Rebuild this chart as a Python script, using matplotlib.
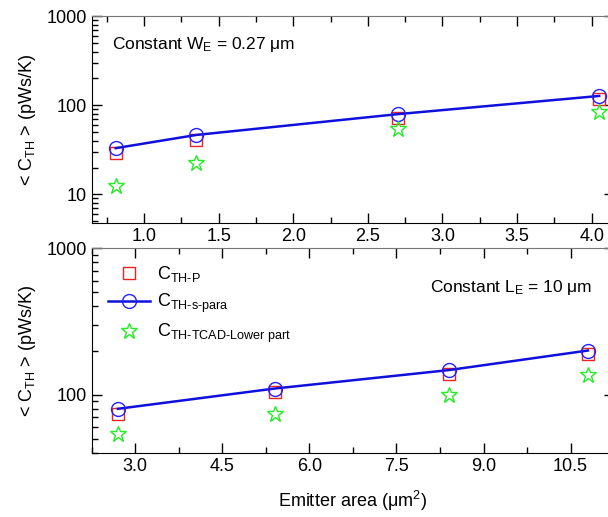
import matplotlib
matplotlib.use("Agg")
import matplotlib.pyplot as plt
from matplotlib.ticker import LogLocator, MultipleLocator, NullFormatter

plt.rcParams['font.family'] = ['Liberation Sans', 'DejaVu Sans']
plt.rcParams['mathtext.fontset'] = 'custom'
plt.rcParams['mathtext.rm'] = 'Liberation Sans'
plt.rcParams['mathtext.it'] = 'Liberation Sans:italic'
plt.rcParams['mathtext.default'] = 'regular'

# constant W_E = 0.27 um, varying length
area_w = [0.81, 1.35, 2.7, 4.05]
cth_p_w = [29, 40.8, 72.4, 118.6]
cth_spara_w = [33, 46.4, 79.4, 127]
cth_tcad_w = [12.4, 22.5, 53.7, 83]

# constant L_E = 10 um, varying width
area_l = [2.7, 5.4, 8.4, 10.8]
cth_p_l = [74, 104, 138, 188]
cth_spara_l = [80, 110, 147, 200]
cth_tcad_l = [53.5, 73.6, 100, 136]

lbl_p = r'C$_{\text{TH-P}}$'
lbl_s = r'C$_{\text{TH-s-para}}$'
lbl_t = r'C$_{\text{TH-TCAD-Lower part}}$'
ylab = r'< C$_{TH}$ > (pWs/K)'

fig = plt.figure(figsize=(6.08, 5.17), dpi=100)
ax1 = fig.add_axes([0.151, 0.569, 0.859, 0.400])
ax2 = fig.add_axes([0.151, 0.124, 0.859, 0.396])


def draw(ax, x, p, s, t):
    ax.plot(x, p, ls='none', marker='s', ms=8, mfc='none', mec='#ee2222', mew=1.0, label=lbl_p)
    ax.plot(x, s, color='#1010dd', lw=1.8, marker='o', ms=10, mfc='none', mec='#2222ff', mew=1.0, label=lbl_s)
    ax.plot(x, t, ls='none', marker='*', ms=12, mfc='none', mec='#22ee22', mew=1.0, label=lbl_t)
    ax.set_yscale('log')
    ax.yaxis.set_major_locator(LogLocator(base=10))
    ax.yaxis.set_minor_locator(LogLocator(base=10, subs=range(2, 10)))
    ax.yaxis.set_minor_formatter(NullFormatter())
    ax.tick_params(which='both', direction='in', top=True, right=True, labelsize=13)
    ax.tick_params(which='major', length=7, width=1)
    ax.tick_params(which='minor', length=4, width=1)
    ax.spines['top'].set_color('#777777')
    ax.spines['right'].set_visible(False)
    ax.set_ylabel(ylab, fontsize=13, labelpad=6)


draw(ax1, area_w, cth_p_w, cth_spara_w, cth_tcad_w)
ax1.set_xlim(0.65, 4.15)
ax1.set_ylim(4.8, 1000)
ax1.xaxis.set_major_locator(MultipleLocator(0.5))
ax1.xaxis.set_minor_locator(MultipleLocator(0.25))
ax1.xaxis.set_major_formatter(lambda v, pos: f'{v:.1f}')
ax1.set_yticks([10, 100, 1000])
ax1.set_yticklabels(['10', '100', '1000'])
ax1.text(0.038, 0.86, 'Constant W$_E$ = 0.27 μm', transform=ax1.transAxes,
         fontsize=12.5, va='center', ha='left')

draw(ax2, area_l, cth_p_l, cth_spara_l, cth_tcad_l)
ax2.set_xlim(2.25, 11.25)
ax2.set_ylim(40, 1000)
ax2.xaxis.set_major_locator(MultipleLocator(1.5))
ax2.xaxis.set_minor_locator(MultipleLocator(0.75))
ax2.xaxis.set_major_formatter(lambda v, pos: f'{v:.1f}')
ax2.set_yticks([100, 1000])
ax2.set_yticklabels(['100', '1000'])
ax2.text(0.958, 0.81, 'Constant L$_E$ = 10 μm', transform=ax2.transAxes,
         fontsize=12.5, va='center', ha='right')
ax2.set_xlabel('Emitter area (μm$^2$)', fontsize=13, labelpad=10)
ax2.legend(loc='upper left', bbox_to_anchor=(0.0, 1.0), frameon=False, fontsize=13,
           handlelength=2.3, labelspacing=0.4, handletextpad=0.4)

fig.savefig('out.png', dpi=100)
